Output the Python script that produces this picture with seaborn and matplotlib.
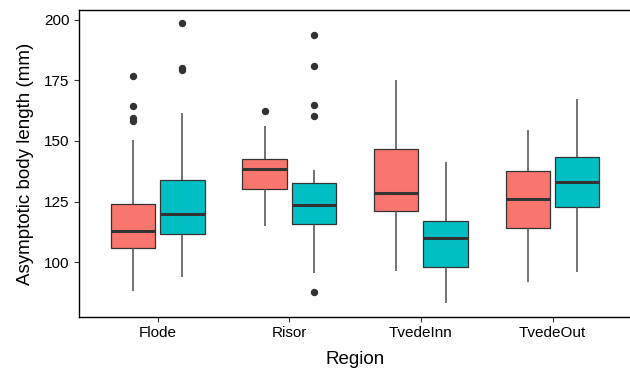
import matplotlib
matplotlib.use("Agg")
import matplotlib.pyplot as plt
import seaborn as sns
import pandas as pd

regions = ["Flode", "Risor", "TvedeInn", "TvedeOut"]
groups = ["A", "B"]

flode_a = [88.0, 95, 99, 102, 104, 105.7, 107, 109, 110, 112, 113.0, 115, 117, 119, 121,
           123.9, 150.4, 158.4, 159.4, 164.6, 176.9]
flode_b = [93.7, 102, 108, 110, 111.5, 114, 116, 118, 120.0, 124, 128, 131, 133.8, 161.4,
           179.5, 180.0, 198.6]
risor_a = [114.9, 126, 130.3, 134, 138.5, 140, 142.6, 156.2, 162.5]
risor_b = [87.5, 95.4, 104, 109, 113, 115.6, 117, 119, 120, 122, 123.6, 126, 128, 130, 131,
           132.8, 137.9, 160.5, 164.8, 181.1, 193.9]
tvedeinn_a = [96.3, 112, 121.1, 125, 128.7, 138, 146.7, 160, 175.1]
tvedeinn_b = [83.0, 92, 98.0, 104, 110.0, 113, 116.9, 128, 141.5]
tvedeout_a = [91.8, 104, 114.1, 120, 125.9, 132, 137.6, 146, 154.7]
tvedeout_b = [95.8, 110, 122.8, 128, 133.2, 138, 143.3, 155, 167.4]

series = {
    ("Flode", "A"): flode_a, ("Flode", "B"): flode_b,
    ("Risor", "A"): risor_a, ("Risor", "B"): risor_b,
    ("TvedeInn", "A"): tvedeinn_a, ("TvedeInn", "B"): tvedeinn_b,
    ("TvedeOut", "A"): tvedeout_a, ("TvedeOut", "B"): tvedeout_b,
}
rows = []
for (reg, grp), vals in series.items():
    for v in vals:
        rows.append({"Region": reg, "Group": grp, "Length": v})
df = pd.DataFrame(rows)

sns.set_style("white")
plt.rcParams["font.family"] = ["Liberation Sans", "DejaVu Sans"]

fig = plt.figure(figsize=(6.3, 3.73), dpi=100)
W, H = 630, 373
ax = fig.add_axes([78.7 / W, 56 / H, (631.5 - 78.7) / W, 307 / H])

edge = "#333333"
sns.boxplot(
    data=df, x="Region", y="Length", hue="Group", order=regions, hue_order=groups,
    palette=["#F8766D", "#00BFC4"], width=0.75, gap=0.1, linecolor=edge,
    linewidth=0.9, saturation=1, legend=False, ax=ax, showcaps=False,
    medianprops={"linewidth": 2.2, "color": edge},
    whiskerprops={"color": "#4d4d4d", "linewidth": 1.1},
    flierprops={"marker": "o", "markersize": 4.3, "markerfacecolor": edge,
                "markeredgecolor": edge},
)

ax.set_xlim(-0.6, 3.6)
ax.set_ylim(77.3, 204.1)
ax.set_yticks([100, 125, 150, 175, 200])
ax.set_xlabel("Region", fontsize=13.5, color="black", labelpad=8)
ax.set_ylabel("Asymptotic body length (mm)", fontsize=13.5, color="black", labelpad=7.5)
ax.tick_params(axis="both", which="major", length=3.5, width=0.8, color="#333333",
               labelsize=11, labelcolor="black", pad=3, direction="out",
               bottom=True, left=True)
for s in ax.spines.values():
    s.set_color("black")
    s.set_linewidth(1.0)

fig.savefig("out.png", dpi=100)
